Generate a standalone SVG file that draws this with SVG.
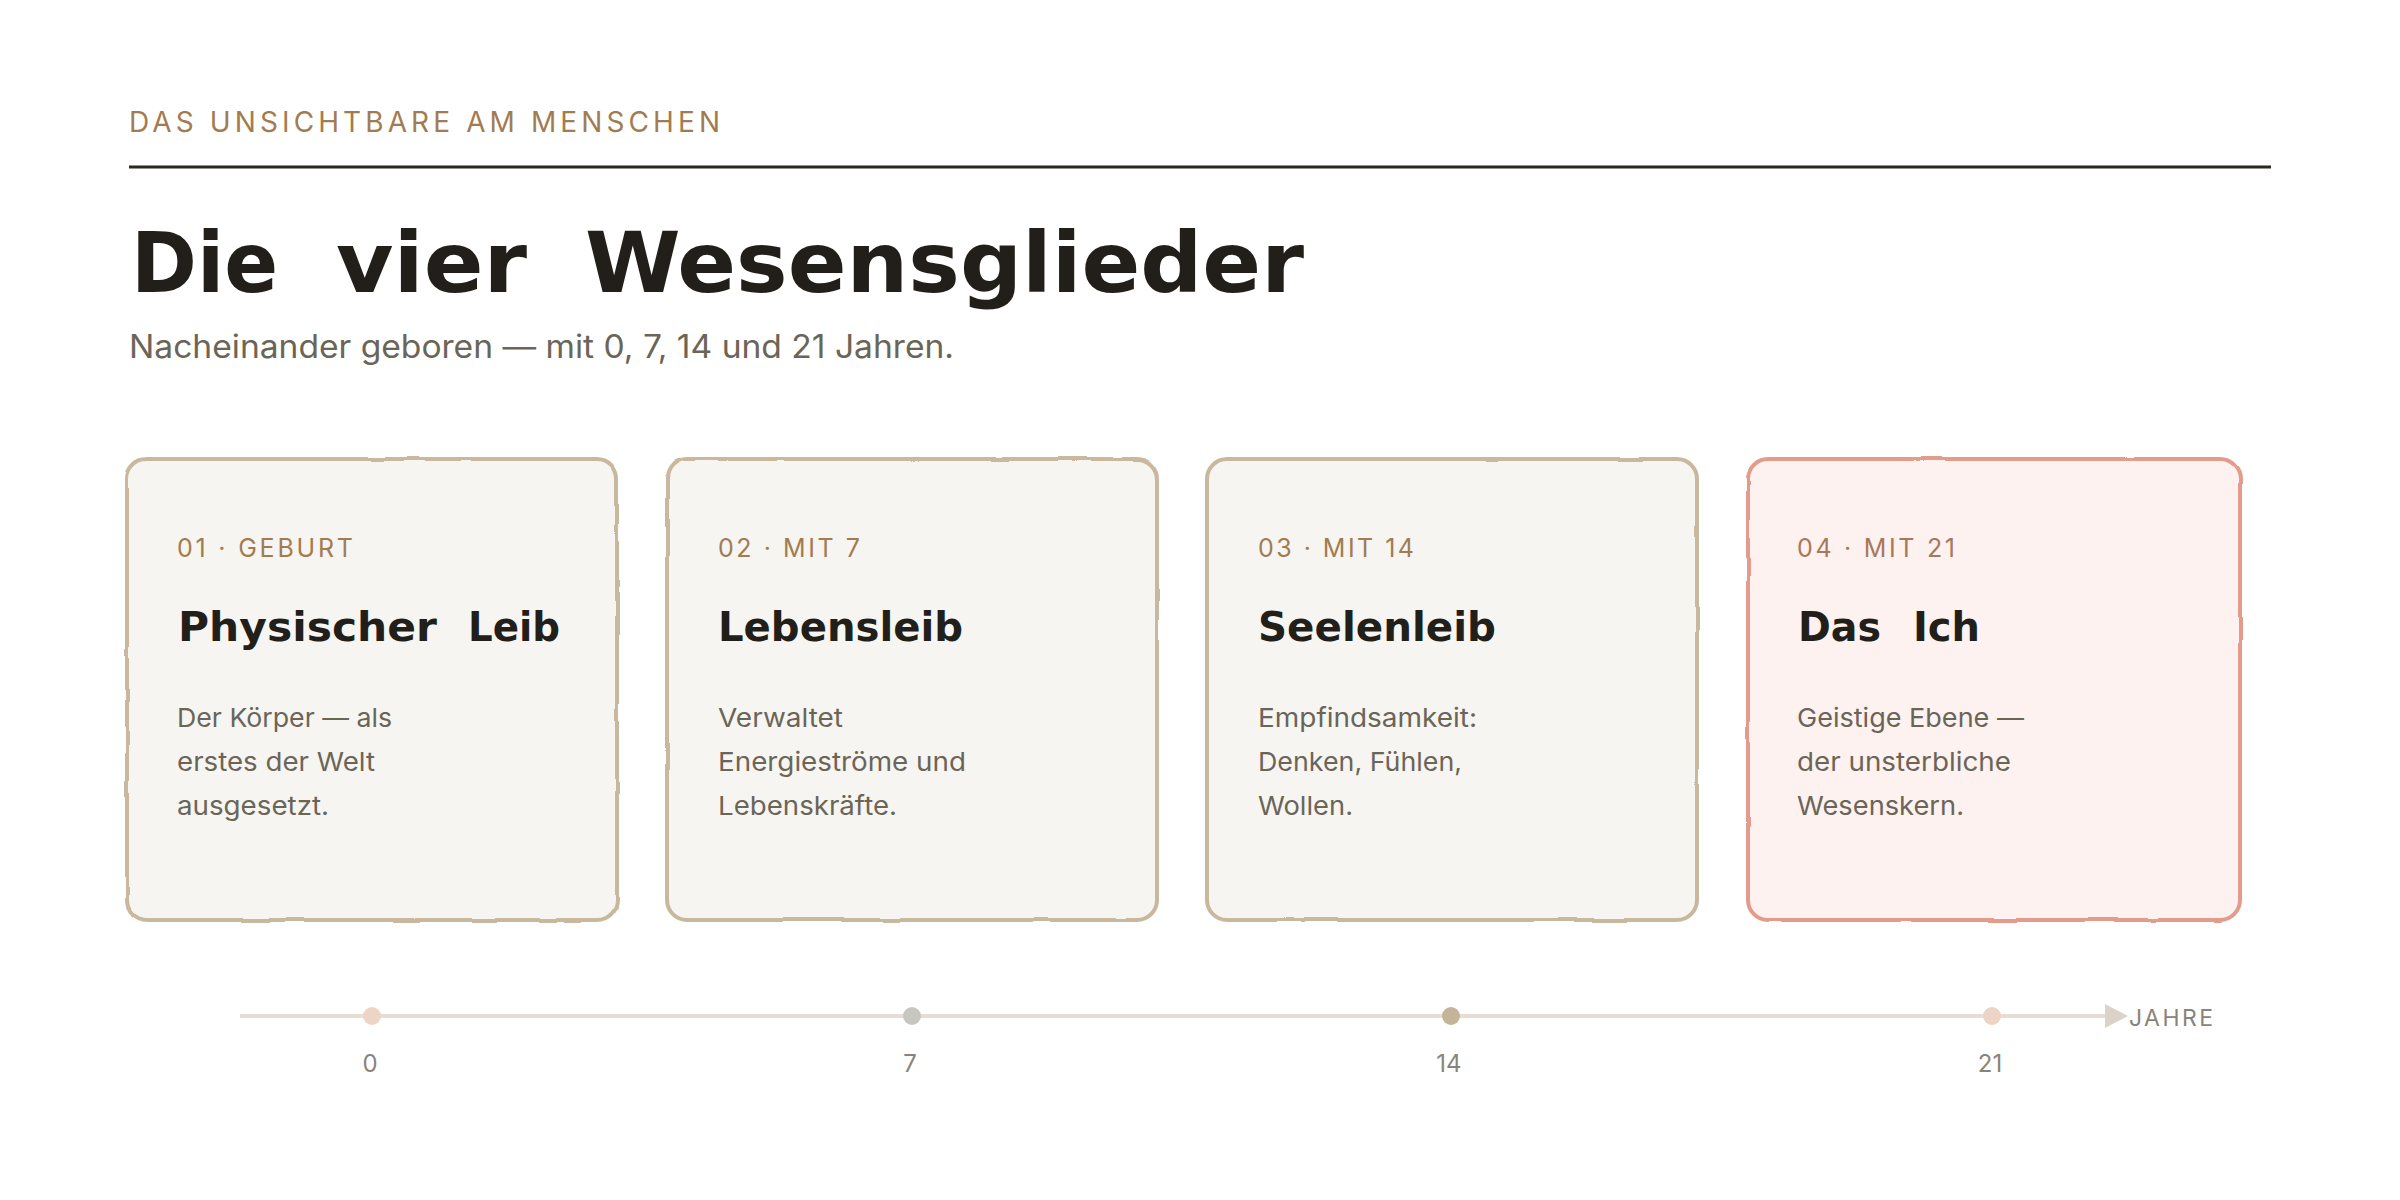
<svg xmlns="http://www.w3.org/2000/svg" width="2400" height="1200" viewBox="0 0 2400 1200">
  <style>
    .kicker { font-family: "Inter", "Liberation Sans", sans-serif; font-size: 28px; fill: #a27c50; }
    .title { font-family: "DejaVu Sans Condensed", "DejaVu Sans", sans-serif; font-weight: bold; font-size: 84px; fill: #221f1a; }
    .sub { font-family: "Inter", "Liberation Sans", sans-serif; font-size: 32px; fill: #6b6558; }
    .card { fill: #f6f5f1; }
    .card-stroke { fill: none; stroke: #c9b89d; stroke-width: 4; }
    .card.accent { fill: #fdf2f0; }
    .card-stroke.accent { stroke: #e39b8b; }
    .label { font-family: "Inter", "Liberation Sans", sans-serif; font-size: 25px; fill: #a27c50; }
    .label.accent { fill: #a8785a; }
    .ctitle { font-family: "DejaVu Sans", sans-serif; font-weight: bold; font-size: 41px; fill: #221f1a; }
    .body { font-family: "Inter", "Liberation Sans", sans-serif; font-size: 26px; fill: #6b6558; }
    .axis { stroke: #e6ddd3; stroke-width: 4; fill: none; }
    .tick { font-family: "Inter", "Liberation Sans", sans-serif; font-size: 24px; fill: #8a8478; text-anchor: middle; }
    .axis-label { font-family: "Inter", "Liberation Sans", sans-serif; font-size: 23px; fill: #8a8478; }
  </style>
  <defs>
    <filter id="rough" x="-3%" y="-3%" width="106%" height="106%">
      <feTurbulence type="fractalNoise" baseFrequency="0.02" numOctaves="2" seed="4" result="n"/>
      <feDisplacementMap in="SourceGraphic" in2="n" scale="3" xChannelSelector="R" yChannelSelector="G"/>
    </filter>
    <marker id="arrow" markerUnits="userSpaceOnUse" viewBox="0 0 23 24" refX="0" refY="12" markerWidth="23" markerHeight="24" orient="auto">
      <path d="M0,0 L23,12 L0,24 Z" fill="#dcd3c8"/>
    </marker>
  </defs>

  <rect width="2400" height="1200" fill="#ffffff"/>

  <g id="header">
    <text class="kicker" x="129" y="132" textLength="591" lengthAdjust="spacing">DAS UNSICHTBARE AM MENSCHEN</text>
    <line x1="129" y1="167" x2="2271" y2="167" stroke="#2a2620" stroke-width="3"/>
    <text class="title" x="131" y="292" textLength="147" lengthAdjust="spacingAndGlyphs">Die</text>
    <text class="title" x="336" y="292" textLength="191" lengthAdjust="spacingAndGlyphs">vier</text>
    <text class="title" x="585" y="292" textLength="719" lengthAdjust="spacingAndGlyphs">Wesensglieder</text>
    <text class="sub" x="129" y="358" textLength="825" lengthAdjust="spacingAndGlyphs">Nacheinander geboren — mit 0, 7, 14 und 21 Jahren.</text>
  </g>

  <g id="card-1">
    <rect class="card" x="127" y="459" width="490" height="461" rx="20"/>
    <rect class="card-stroke" x="127" y="459" width="490" height="461" rx="20" filter="url(#rough)"/>
    <text class="label" x="177" y="557" textLength="176" lengthAdjust="spacing">01 · GEBURT</text>
    <text class="ctitle" x="178" y="641" textLength="259" lengthAdjust="spacingAndGlyphs">Physischer</text>
    <text class="ctitle" x="468" y="641" textLength="92" lengthAdjust="spacingAndGlyphs">Leib</text>
    <text class="body" x="177" y="727" textLength="215" lengthAdjust="spacingAndGlyphs">Der Körper — als</text>
    <text class="body" x="177" y="771" textLength="198" lengthAdjust="spacingAndGlyphs">erstes der Welt</text>
    <text class="body" x="177" y="815" textLength="152" lengthAdjust="spacingAndGlyphs">ausgesetzt.</text>
  </g>

  <g id="card-2">
    <rect class="card" x="667" y="459" width="490" height="461" rx="20"/>
    <rect class="card-stroke" x="667" y="459" width="490" height="461" rx="20" filter="url(#rough)"/>
    <text class="label" x="718" y="557" textLength="142" lengthAdjust="spacing">02 · MIT 7</text>
    <text class="ctitle" x="718" y="641" textLength="245" lengthAdjust="spacingAndGlyphs">Lebensleib</text>
    <text class="body" x="718" y="727" textLength="125" lengthAdjust="spacingAndGlyphs">Verwaltet</text>
    <text class="body" x="718" y="771" textLength="248" lengthAdjust="spacingAndGlyphs">Energieströme und</text>
    <text class="body" x="718" y="815" textLength="179" lengthAdjust="spacingAndGlyphs">Lebenskräfte.</text>
  </g>

  <g id="card-3">
    <rect class="card" x="1207" y="459" width="490" height="461" rx="20"/>
    <rect class="card-stroke" x="1207" y="459" width="490" height="461" rx="20" filter="url(#rough)"/>
    <text class="label" x="1258" y="557" textLength="156" lengthAdjust="spacing">03 · MIT 14</text>
    <text class="ctitle" x="1258" y="641" textLength="238" lengthAdjust="spacingAndGlyphs">Seelenleib</text>
    <text class="body" x="1258" y="727" textLength="219" lengthAdjust="spacingAndGlyphs">Empfindsamkeit:</text>
    <text class="body" x="1258" y="771" textLength="204" lengthAdjust="spacingAndGlyphs">Denken, Fühlen,</text>
    <text class="body" x="1258" y="815" textLength="95" lengthAdjust="spacingAndGlyphs">Wollen.</text>
  </g>

  <g id="card-4">
    <rect class="card accent" x="1748" y="459" width="492" height="461" rx="20"/>
    <rect class="card-stroke accent" x="1748" y="459" width="492" height="461" rx="20" filter="url(#rough)"/>
    <text class="label accent" x="1797" y="557" textLength="158" lengthAdjust="spacing">04 · MIT 21</text>
    <text class="ctitle" x="1798" y="641" textLength="83" lengthAdjust="spacingAndGlyphs">Das</text>
    <text class="ctitle" x="1913" y="641" textLength="67" lengthAdjust="spacingAndGlyphs">Ich</text>
    <text class="body" x="1797" y="727" textLength="227" lengthAdjust="spacingAndGlyphs">Geistige Ebene —</text>
    <text class="body" x="1797" y="771" textLength="214" lengthAdjust="spacingAndGlyphs">der unsterbliche</text>
    <text class="body" x="1797" y="815" textLength="167" lengthAdjust="spacingAndGlyphs">Wesenskern.</text>
  </g>

  <g id="connectors">
    <line class="axis" x1="240" y1="1016" x2="2105" y2="1016" marker-end="url(#arrow)"/>
  </g>

  <g id="timeline">
    <circle cx="372" cy="1016" r="9" fill="#ecd5c5"/>
    <circle cx="912" cy="1016" r="9" fill="#c8c6c0"/>
    <circle cx="1451" cy="1016" r="9" fill="#c4b49a"/>
    <circle cx="1992" cy="1016" r="9" fill="#ecd5c5"/>
    <text class="tick" x="370" y="1072">0</text>
    <text class="tick" x="910" y="1072">7</text>
    <text class="tick" x="1449" y="1072">14</text>
    <text class="tick" x="1990" y="1072">21</text>
    <text class="axis-label" x="2129" y="1026" textLength="84" lengthAdjust="spacing">JAHRE</text>
  </g>
</svg>
